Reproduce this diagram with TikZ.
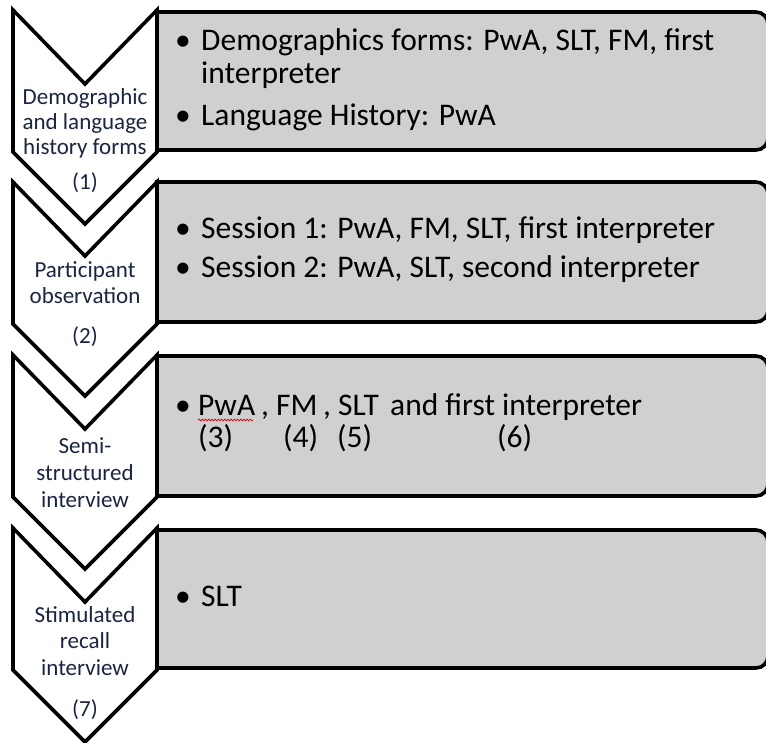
\documentclass[tikz,border=0pt]{standalone}
\usepackage{fontspec}
\setmainfont{Carlito}
\usetikzlibrary{decorations.pathmorphing}
\definecolor{boxgray}{HTML}{D0D0D0}
\definecolor{chevtext}{HTML}{1A2540}
\tikzset{
  chev/.style={draw=black,fill=white,line width=3.6pt,line join=miter},
  rbox/.style={draw=black,fill=boxgray,line width=3.6pt},
  ctext/.style={font=\fontsize{23}{25}\selectfont,text=chevtext,inner sep=0pt,anchor=base},
  btext/.style={font=\fontsize{31.5}{33}\selectfont,text=black,inner sep=0pt,anchor=base west},
  bul/.style={font=\fontsize{31.5}{33}\selectfont,text=black,inner sep=0pt,anchor=base},
  spell/.style={draw=red!85!black,line width=0.7pt,decorate,decoration={snake,amplitude=0.9pt,segment length=3.2pt}}
}
\begin{document}
\begin{tikzpicture}[x=1pt,y=-1pt]
\useasboundingbox[fill=white] (0,0) rectangle (766,742);
% rounded boxes (square left corners, rounded right)
\foreach \t/\b in {12/150,182/322,356/496,530/668}{
  \draw[rbox] (157,\t) -- (756,\t) arc[start angle=-90,end angle=0,radius=12] -- (768,\b-12) arc[start angle=0,end angle=90,radius=12] -- (157,\b) -- cycle;
}
% chevrons
\foreach \t in {10,182,355,528}{
  \draw[chev] (13,\t) -- (85,\t+74) -- (157,\t) -- (157,\t+142) -- (85,\t+214) -- (13,\t+142) -- cycle;
}
% chevron texts
\node[ctext] (c1a) at (85,104) {Demographic};
\node[ctext] (c1b) at (85,129) {and language};
\node[ctext] (c1c) at (85,154) {history forms};
\node[ctext] (c1d) at (85,189) {(1)};
\node[ctext] (c2a) at (85,277) {Participant};
\node[ctext] (c2b) at (85,303) {observation};
\node[ctext] (c2c) at (85,343) {(2)};
\node[ctext] (c3a) at (85,453) {Semi-};
\node[ctext] (c3b) at (85,480) {structured};
\node[ctext] (c3c) at (85,507) {interview};
\node[ctext] (c4a) at (85,622) {Stimulated};
\node[ctext] (c4b) at (85,648) {recall};
\node[ctext] (c4c) at (85,675) {interview};
\node[ctext] (c4d) at (85,716) {(7)};
% box 1
\node[bul] (b1a) at (183,50) {•};
\node[btext] (t1a) at (201,50) {Demographics forms: PwA, SLT, FM, first};
\node[btext] (t1b) at (201,83) {interpreter};
\node[bul] (b1b) at (183,125) {•};
\node[btext] (t1c) at (201,125) {Language History: PwA};
% box 2
\node[bul] (b2a) at (183,238) {•};
\node[btext] (t2a) at (201,238) {Session 1: PwA, FM, SLT, first interpreter};
\node[bul] (b2b) at (183,277) {•};
\node[btext] (t2b) at (201,277) {Session 2: PwA, SLT, second interpreter};
% box 3
\node[bul] (b3a) at (183,415) {•};
\node[btext] (t3a) at (198,415) {PwA};
\node[btext] (t3b) at (261,415) {, FM};
\node[btext] (t3c) at (323,415) {, SLT};
\node[btext] (t3d) at (390,415) {and first interpreter};
\node[btext] (n3) at (198,447) {(3)};
\node[btext] (n4) at (283,447) {(4)};
\node[btext] (n5) at (337,447) {(5)};
\node[btext] (n6) at (497,447) {(6)};
\draw[spell] (t3a.base west) ++(0,5) -- ++(55,0);
% box 4
\node[bul] (b4a) at (183,606) {•};
\node[btext] (t4a) at (201,606) {SLT};
\end{tikzpicture}
\end{document}
